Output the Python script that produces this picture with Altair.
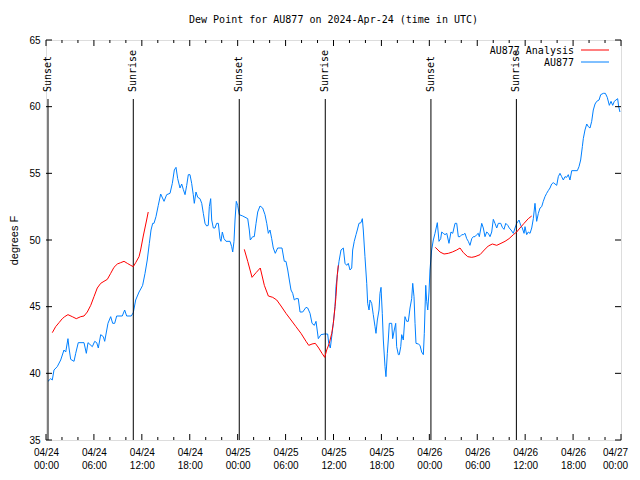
import altair as alt
import pandas as pd

# ---------------- data ----------------
# hours after 2024-04-24 00:00 UTC, dew point in degrees F
obs_hours = [0.25, 0.59, 0.79, 1.0, 1.41, 1.84, 2.25, 2.47, 2.75, 2.88, 3.09, 3.51, 3.72, 4.04, 4.76,
             5.05, 5.26, 5.80, 6.10, 6.35, 6.55, 6.85, 7.18, 7.35, 7.76, 8.10, 8.35, 8.60, 8.85, 9.55,
             9.85, 10.1, 10.68, 10.93, 11.23, 11.65, 11.93, 12.1, 12.4, 12.68, 12.94, 13.15, 13.36, 13.52,
             13.77, 14.06, 14.36, 14.78, 15.11, 15.53, 15.82, 16.07, 16.28, 16.49, 16.78, 16.99, 17.19,
             17.41, 17.62, 17.82, 18.03, 18.24, 18.44, 18.57, 18.78, 19.0, 19.28, 19.5, 19.7, 19.91,
             20.12, 20.32, 20.45, 20.62, 20.75, 20.95, 21.16, 21.37, 21.58, 21.79, 21.91, 22.08, 22.29,
             22.54, 23.04, 23.25, 23.38, 23.54, 23.67, 23.83, 24.0, 24.2, 24.63, 25.26, 25.46, 25.58,
             25.88, 26.08, 26.3, 26.51, 26.8, 27.13, 27.42, 27.64, 27.84, 28.05, 28.26, 28.46, 28.71,
             29.01, 29.55, 29.84, 30.05, 30.27, 30.47, 30.68, 30.89, 31.09, 31.3, 31.59, 31.81, 32.14,
             32.56, 32.77, 33.06, 33.31, 33.6, 33.81, 34.1, 34.43, 34.85, 35.27, 35.4, 35.6, 35.81,
             36.02, 36.19, 36.31, 36.48, 36.69, 36.94, 37.23, 37.44, 37.65, 37.85, 38.07, 38.28, 38.4,
             38.6, 38.82, 38.98, 39.19, 39.44, 39.61, 39.73, 39.94, 40.16, 40.28, 40.45, 40.57, 40.78,
             40.98, 41.2, 41.32, 41.49, 41.7, 41.82, 41.95, 42.11, 42.24, 42.45, 42.57, 42.74, 42.86,
             42.99, 43.29, 43.41, 43.61, 43.79, 43.91, 44.12, 44.24, 44.42, 44.54, 44.74, 44.95, 45.17,
             45.37, 45.58, 45.79, 45.92, 46.08, 46.21, 46.33, 46.62, 46.83, 47.04, 47.25, 47.37, 47.55,
             47.67, 47.8, 47.96, 48.08, 48.29, 48.5, 48.71, 49.0, 49.21, 49.42, 49.55, 49.75, 49.96,
             50.18, 50.46, 50.71, 50.93, 51.22, 51.43, 51.63, 51.84, 52.06, 52.26, 52.47, 52.68, 52.88,
             53.09, 53.31, 53.51, 53.72, 53.93, 54.13, 54.26, 54.56, 54.76, 54.97, 55.18, 55.38, 55.6,
             55.81, 56.01, 56.22, 56.44, 56.64, 56.94, 57.14, 57.35, 57.57, 57.82, 58.01, 58.23, 58.52,
             58.73, 58.94, 59.23, 59.44, 59.64, 59.86, 59.98, 60.19, 60.39, 60.61, 60.82, 61.02, 61.23,
             61.44, 61.65, 61.86, 62.07, 62.27, 62.48, 62.69, 62.89, 63.11, 63.32, 63.52, 63.74, 63.95,
             64.15, 64.36, 64.57, 64.78, 64.99, 65.2, 65.4, 65.61, 65.83, 66.53, 66.74, 66.95, 67.16,
             67.28, 67.49, 67.71, 67.91, 68.12, 68.33, 68.53, 68.75, 68.96, 69.25, 69.46, 69.79, 70.04,
             70.28, 70.54, 70.75, 70.96, 71.16, 71.37, 71.58, 71.71, 71.87]
obs_vals = [39.4, 39.6, 39.5, 40.25, 40.5, 41.0, 41.75, 41.6, 42.6, 41.9, 41.05, 40.9, 41.5, 42.3, 42.3,
            41.5, 42.3, 42.0, 42.4, 42.3, 41.9, 42.9, 42.75, 42.4, 43.75, 44.25, 43.75, 43.75, 44.3, 44.3,
            44.75, 44.3, 44.3, 44.55, 45.5, 46.1, 46.4, 46.6, 47.5, 48.5, 49.75, 50.75, 51.25, 51.25,
            51.75, 52.6, 53.45, 52.9, 53.4, 53.5, 54.25, 55.25, 55.45, 54.6, 53.9, 54.2, 53.8,
            53.4, 54.1, 54.9, 54.9, 54.25, 53.4, 52.75, 53.6, 53.2, 53.1, 52.75, 52.0, 51.25,
            51.05, 51.1, 52.5, 53.1, 51.5, 50.9, 50.9, 51.25, 51.25, 50.1, 49.9, 50.6, 50.1,
            49.9, 49.9, 49.5, 49.1, 49.9, 51.5, 52.9, 52.6, 51.9, 51.8, 51.6, 50.75, 50.0,
            50.25, 50.25, 51.25, 52.1, 52.55, 52.4, 51.9, 51.25, 50.5, 50.75, 50.1, 49.4, 49.0,
            49.4, 49.4, 48.4, 48.4, 47.75, 47.0, 46.25, 46.0, 45.5, 45.6, 45.6, 44.6, 44.6,
            44.95, 44.9, 44.5, 43.75, 43.6, 43.9, 42.6, 42.9, 42.95, 42.95, 42.25, 41.9, 42.9,
            44.0, 45.0, 46.5, 47.4, 48.4, 49.25, 49.4, 48.25, 48.1, 48.25, 47.75, 47.9, 49.25,
            49.9, 50.4, 50.75, 51.25, 51.3, 51.6, 50.75, 48.75, 46.75, 45.25, 44.75, 45.5, 45.25,
            44.4, 43.5, 43.0, 44.0, 44.75, 46.0, 46.45, 44.5, 42.5, 40.5, 39.75, 41.5, 42.5,
            43.75, 43.75, 42.6, 43.25, 43.75, 42.0, 41.4, 41.4, 42.0, 42.9, 42.5, 44.25, 43.9,
            43.9, 44.9, 45.6, 46.75, 45.75, 43.75, 42.25, 42.2, 42.1, 41.6, 41.4, 43.0, 46.6,
            45.4, 44.75, 46.1, 47.75, 49.25, 50.0, 50.5, 51.3, 49.9, 50.1, 50.6, 50.5, 50.4,
            50.5, 49.75, 50.6, 50.5, 51.25, 51.25, 50.25, 50.25, 50.4, 50.4, 50.5, 50.1, 49.9,
            49.6, 50.1, 50.25, 50.25, 50.4, 50.5, 50.25, 51.25, 50.9, 50.25, 50.6, 50.5, 50.25,
            50.6, 51.55, 51.25, 50.9, 51.25, 51.25, 50.95, 50.8, 51.25, 51.1, 50.9, 50.75, 50.5,
            50.9, 51.25, 51.5, 51.1, 50.9, 50.5, 51.0, 50.4, 50.6, 50.5, 50.9, 51.6, 52.75,
            51.4, 52.0, 52.4, 52.5, 52.9, 53.25, 53.5, 53.7, 53.9, 54.2, 54.3, 54.2, 54.1,
            54.75, 55.0, 54.75, 54.5, 54.75, 54.7, 54.9, 54.5, 55.2, 55.2, 55.5, 56.0, 57.0,
            57.6, 58.25, 58.7, 58.5, 58.4, 58.9, 59.75, 60.2, 60.4, 60.5, 60.9, 61.0, 61.0,
            60.7, 60.1, 60.4, 60.1, 60.4, 60.5, 60.6, 60.0, 59.6]

an1_hours = [0.79, 1.21, 1.63, 2.04, 2.34, 2.75, 3.29, 3.79, 4.35, 4.76, 5.17, 5.6, 6.01, 6.42, 6.85,
             7.26, 7.68, 8.1, 8.51, 8.93, 9.35, 9.77, 10.18, 10.61, 10.93, 11.23, 11.65, 11.85, 12.18,
             12.6, 12.8]
an1_vals = [43.05, 43.5, 43.8, 44.1, 44.25, 44.4, 44.25, 44.1, 44.25, 44.3, 44.6, 45.1, 45.75, 46.4,
            46.75, 46.9, 47.05, 47.5, 47.95, 48.2, 48.3, 48.4, 48.25, 48.1, 48.0, 48.3, 48.75, 49.25,
            50.3, 51.5, 52.1]
an2_hours = [24.83, 25.26, 25.8, 26.3, 26.83, 27.34, 27.84, 28.39, 28.89, 29.43, 30.05, 30.68, 31.3,
             31.93, 32.56, 32.9, 33.31, 33.72, 34.15, 34.56, 34.9, 35.15, 35.47, 35.78, 35.98, 36.19,
             36.31, 36.48, 36.6]
an2_vals = [49.3, 48.4, 47.2, 47.55, 47.9, 46.6, 45.8, 45.7, 45.5, 45.05, 44.5, 44.0, 43.5, 43.0, 42.4,
            42.1, 42.2, 42.25, 41.9, 41.5, 41.2, 41.75, 42.25, 43.0, 43.75, 45.0, 45.75, 47.4, 48.1]
an3_hours = [48.75, 49.34, 49.84, 50.38, 50.88, 51.43, 51.84, 52.26, 52.81, 53.31, 53.72, 54.35, 54.88,
             55.38, 55.89, 56.44, 56.97, 57.48, 57.98, 58.52, 58.94, 59.35, 59.86, 60.39, 60.82]
an3_vals = [49.45, 49.1, 48.95, 49.0, 49.1, 49.25, 49.4, 49.05, 48.75, 48.7, 48.75, 48.9, 49.25, 49.55,
            49.7, 49.6, 49.75, 49.9, 50.1, 50.4, 50.6, 50.9, 51.25, 51.6, 51.8]

sun_hours = [0.25, 10.93, 24.2, 34.97, 48.2, 58.9]
sun_labels = ["Sunset", "Sunrise", "Sunset", "Sunrise", "Sunset", "Sunrise"]

major_tick_hours = [0, 6, 12, 18, 24, 30, 36, 42, 48, 54, 60, 66, 72]
minor_tick_hours = [2, 4, 8, 10, 14, 16, 20, 22, 26, 28, 32, 34, 38, 40, 44, 46, 50, 52, 56, 58, 62,
                    64, 68, 70]
y_ticks = [35, 40, 45, 50, 55, 60, 65]

series_names = ["AU877 Analysis", "AU877"]
series_colors = ["#ff0000", "#0080ff"]

TITLE = "Dew Point for AU877 on 2024-Apr-24 (time in UTC)"
FONT = "DejaVu Sans Mono"

# ---------------- helpers ----------------
T0 = pd.Timestamp("2024-04-24 00:00:00")


def iso(hours):
    return [(T0 + pd.to_timedelta(h, unit="h")).strftime("%Y-%m-%dT%H:%M:%SZ") for h in hours]


def dt(h):
    return alt.DateTime(year=2024, month=4, date=24 + h // 24, hours=h % 24, utc=True)


obs_df = pd.DataFrame({"t": iso(obs_hours), "v": obs_vals})
an_df = pd.concat([
    pd.DataFrame({"t": iso(an1_hours), "v": an1_vals, "seg": 1}),
    pd.DataFrame({"t": iso(an2_hours), "v": an2_vals, "seg": 2}),
    pd.DataFrame({"t": iso(an3_hours), "v": an3_vals, "seg": 3}),
])
sun_df = pd.DataFrame({"t": iso(sun_hours), "label": sun_labels})
major_df = pd.DataFrame({"t": iso(major_tick_hours)})
minor_df = pd.DataFrame({"t": iso(minor_tick_hours)})
ytick_df = pd.DataFrame({"v": y_ticks})

W, H = 575, 400

xscale = alt.Scale(type="utc", domain=[dt(0), dt(72)], nice=False)
yscale = alt.Scale(domain=[35, 65], nice=False, zero=False)

x_axis = alt.Axis(
    values=[dt(h) for h in major_tick_hours],
    labelExpr="[utcFormat(datum.value, '%m/%d'), utcFormat(datum.value, '%H:%M')]",
    ticks=False, domain=False, grid=False, labelPadding=7, labelLineHeight=13,
    labelFlush=False, labelOverlap=False, title=None,
    labelOffset={"condition": {"test": "datum.value >= utc(2024, 3, 26, 23)", "value": -6},
                 "value": 0},
)
y_axis = alt.Axis(
    values=y_ticks, ticks=False, domain=False, grid=False, labelPadding=6,
    title="degrees F", titlePadding=9, titleFontWeight="normal",
)


def X():
    return alt.X("t:T", scale=xscale, axis=x_axis)


def Y():
    return alt.Y("v:Q", scale=yscale, axis=y_axis)


blue = alt.Chart(obs_df).mark_line(color=series_colors[1], strokeWidth=1).encode(x=X(), y=Y())
red = alt.Chart(an_df).mark_line(color=series_colors[0], strokeWidth=1).encode(
    x=X(), y=Y(), detail="seg:N"
)

sun_rule = alt.Chart(sun_df).mark_rule(color="black", strokeWidth=1).encode(
    x=X(), y=alt.value(59), y2=alt.value(H)
)
sun_text = alt.Chart(sun_df).mark_text(
    angle=270, align="left", baseline="middle", font=FONT, fontSize=10, color="black"
).encode(x=X(), y=alt.value(52), text="label:N")

tick_major_b = alt.Chart(major_df).mark_rule(color="black").encode(
    x=X(), y=alt.value(H), y2=alt.value(H - 6))
tick_major_t = alt.Chart(major_df).mark_rule(color="black").encode(
    x=X(), y=alt.value(0), y2=alt.value(6))
tick_minor_b = alt.Chart(minor_df).mark_rule(color="black").encode(
    x=X(), y=alt.value(H), y2=alt.value(H - 3))
tick_minor_t = alt.Chart(minor_df).mark_rule(color="black").encode(
    x=X(), y=alt.value(0), y2=alt.value(3))
ytick_l = alt.Chart(ytick_df).mark_rule(color="black").encode(
    y=Y(), x=alt.value(0), x2=alt.value(6))
ytick_r = alt.Chart(ytick_df).mark_rule(color="black").encode(
    y=Y(), x=alt.value(W), x2=alt.value(W - 6))

leg_df = pd.DataFrame({"name": series_names, "color": series_colors})
legend_layers = []
for i, (nm, col) in enumerate(zip(series_names, series_colors)):
    row = leg_df.iloc[[i]]
    legend_layers.append(
        alt.Chart(row).mark_text(align="right", baseline="middle", font=FONT, fontSize=10,
                                 color="black").encode(
            x=alt.value(528), y=alt.value(11 + 12 * i), text="name:N")
    )
    legend_layers.append(
        alt.Chart(row).mark_rule(color=col, strokeWidth=1).encode(
            x=alt.value(535), x2=alt.value(563), y=alt.value(10 + 12 * i))
    )

chart = alt.layer(
    blue, tick_major_b, tick_major_t, tick_minor_b, tick_minor_t, ytick_l, ytick_r,
    sun_rule, sun_text, red, *legend_layers
).properties(
    width=W, height=H,
    title=alt.TitleParams(TITLE, font=FONT, fontSize=10, fontWeight="normal", anchor="middle",
                          offset=10, color="black"),
    padding={"left": 38, "top": 32, "right": 11, "bottom": 32},
    autosize=alt.AutoSizeParams(type="none"),
).configure_view(
    stroke="black", strokeWidth=1
).configure_axis(
    labelFont=FONT, labelFontSize=10, labelColor="black",
    titleFont=FONT, titleFontSize=10, titleFontWeight="normal", titleColor="black",
).configure(background="white")

chart.save("out.html", embed_options={"renderer": "svg", "actions": False})
